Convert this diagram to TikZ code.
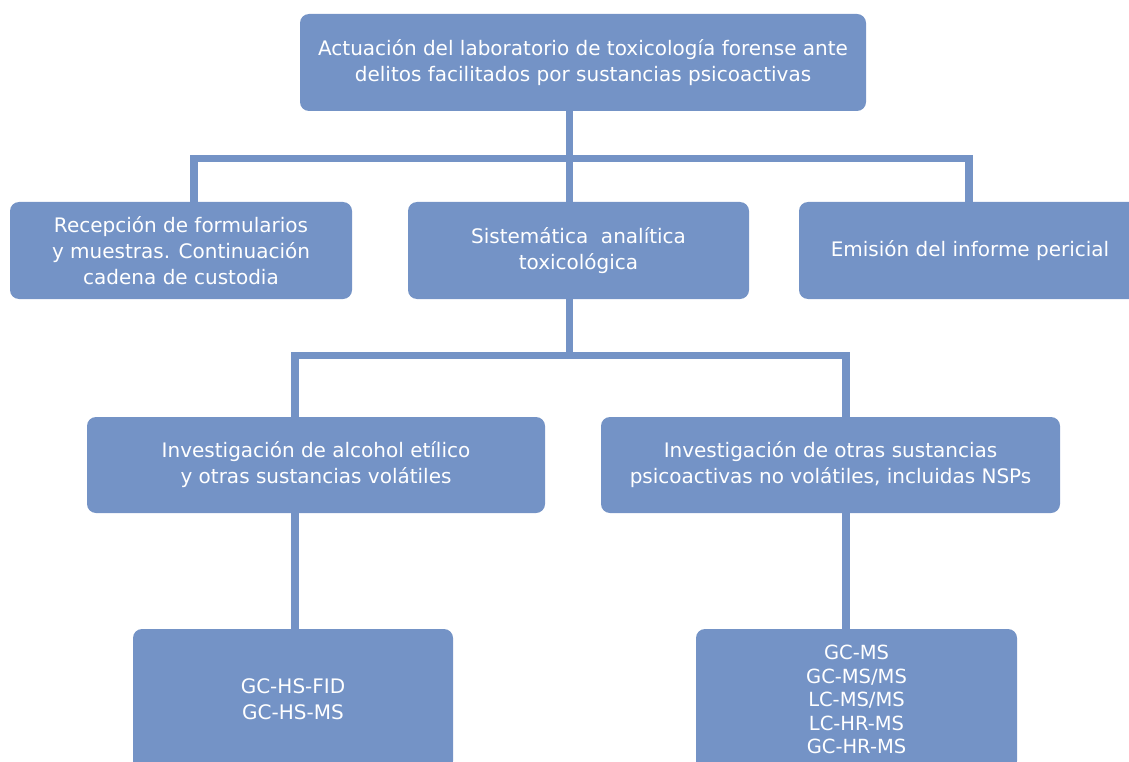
\documentclass[tikz,border=0pt]{standalone}
\usepackage{fontspec}
\setmainfont{DejaVu Sans}
\definecolor{boxblue}{RGB}{116,147,198}
\pgfdeclarelayer{bg}
\pgfsetlayers{bg,main}
\begin{document}
\begin{tikzpicture}[x=1pt,y=-1pt,
  box/.style={fill=boxblue, rounded corners=9pt, text=white, align=center, inner sep=0pt,
    font=\fontsize{20}{26}\selectfont},
  conn/.style={draw=boxblue, line width=7.5pt, line join=miter}]
\useasboundingbox (0,0) rectangle (1129,762);
\clip (0,0) rectangle (1129,762);
\node[box, minimum width=566pt, minimum height=97pt] (top) at (583,62.5)
  {Actuación del laboratorio de toxicología forense ante\\delitos facilitados por sustancias psicoactivas};
\node[box, minimum width=342pt, minimum height=97pt] (rec) at (181,250.5)
  {Recepción de formularios\\y muestras. Continuación\\cadena de custodia};
\node[box, minimum width=341pt, minimum height=97pt] (sis) at (578.5,250.5)
  {Sistemática\ \ analítica\\toxicológica};
\node[box, minimum width=352pt, minimum height=97pt] (emi) at (975,250.5)
  {\hspace*{-10pt}Emisión del informe pericial};
\node[box, minimum width=458pt, minimum height=96pt] (alc) at (316,465)
  {Investigación de alcohol etílico\\y otras sustancias volátiles};
\node[box, minimum width=459pt, minimum height=96pt] (otr) at (830.5,465)
  {Investigación de otras sustancias\\psicoactivas no volátiles, incluidas NSPs};
\node[box, minimum width=320pt, minimum height=141pt] (gch) at (293,699.5)
  {GC-HS-FID\\GC-HS-MS};
\node[box, minimum width=321pt, minimum height=141pt, font=\fontsize{19.5}{23.5}\selectfont] (gcm) at (856.5,699.5)
  {GC-MS\\GC-MS/MS\\LC-MS/MS\\LC-HR-MS\\GC-HR-MS};
\coordinate (j1) at (569.5,158.5);
\coordinate (jL) at (194,158.5);
\coordinate (jR) at (969,158.5);
\coordinate (j2) at (569.5,355.5);
\coordinate (jL2) at (295,355.5);
\coordinate (jR2) at (846,355.5);
\begin{pgfonlayer}{bg}
\draw[conn] (j1 |- top.center) -- (j1) -- (j1 |- sis.center);
\draw[conn] (jL |- rec.center) -- (jL) -- (jR) -- (jR |- emi.center);
\draw[conn] (j2 |- sis.center) -- (j2);
\draw[conn] (jL2 |- alc.center) -- (jL2) -- (jR2) -- (jR2 |- otr.center);
\draw[conn] (jL2 |- alc.center) -- (jL2 |- gch.center);
\draw[conn] (jR2 |- otr.center) -- (jR2 |- gcm.center);
\end{pgfonlayer}
\end{tikzpicture}
\end{document}
